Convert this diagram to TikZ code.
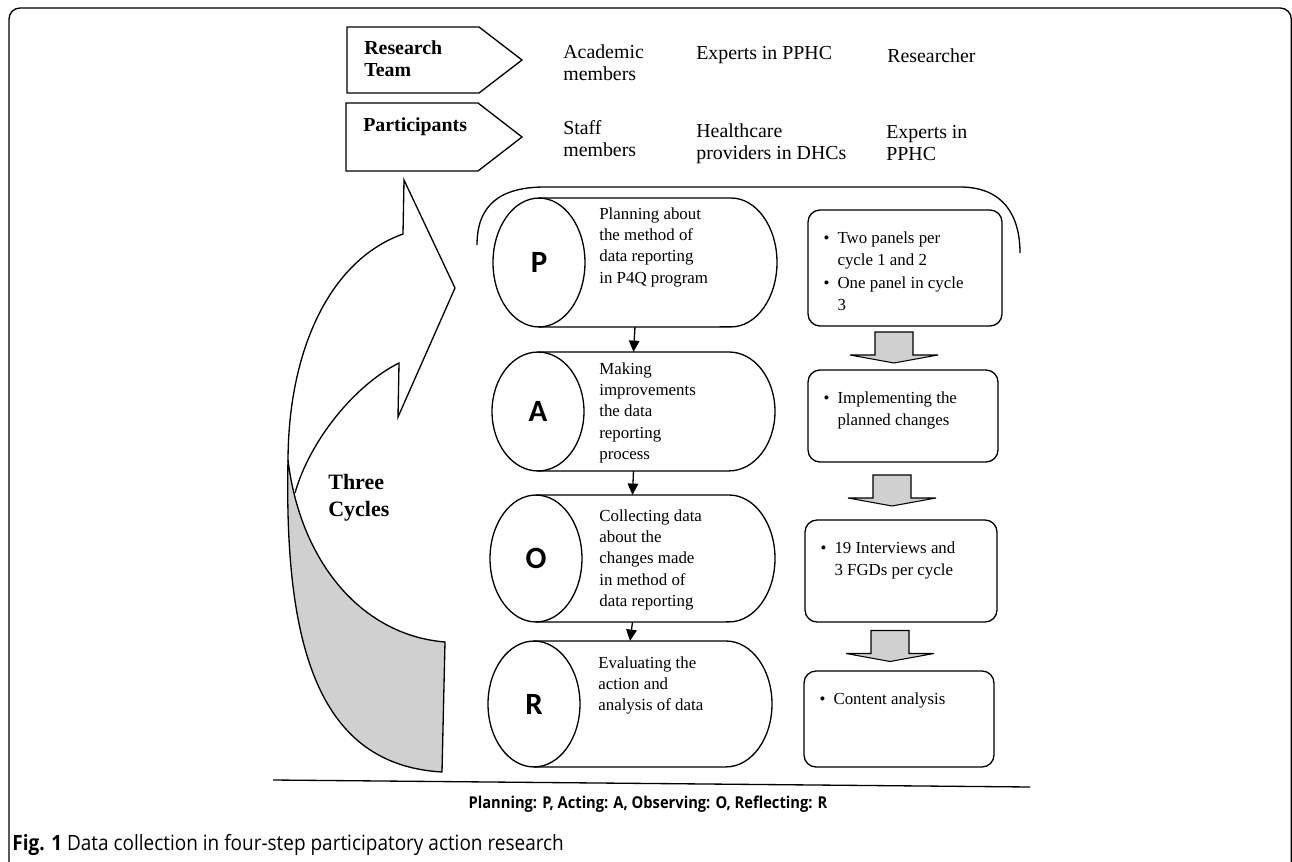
\documentclass[tikz,border=0pt]{standalone}
\usepackage{fontspec}
\setmainfont{Liberation Serif}
\newfontfamily\stepfont{Carlito}
\newfontfamily\capfont[FakeStretch=0.9]{Open Sans}
\usetikzlibrary{arrows.meta,calc,positioning}
\definecolor{shadegrey}{HTML}{D0D0D0}

\begin{document}
\begin{tikzpicture}
[x=0.02cm,y=-0.02cm,%
  outline/.style={draw=black,line width=0.75pt},%
  cylframe/.style={inner sep=0pt,outer sep=0pt},%
  notebox/.style={draw,line width=0.75pt,rounded corners=0.24cm,inner sep=0pt},%
  headText/.style={anchor=north west,inner sep=0pt,align=left,font=\fontsize{11.3}{12.7}\selectfont},%
  bodyText/.style={anchor=north west,inner sep=0pt,align=left,font=\fontsize{9.6}{12.2}\selectfont},%
  stepLetter/.style={inner sep=0pt,font=\stepfont\bfseries\fontsize{17.6}{18}\selectfont},%
  stepArrow/.style={-{Triangle[width=6pt,length=6.5pt]},line width=0.75pt},%
  blockArrow/.style={draw,fill=shadegrey,line width=0.6pt,line join=miter}]
\useasboundingbox (0,0) rectangle (1292,862);
\clip (0,0) rectangle (1292,862);
%% frame
\draw[line width=0.75pt,rounded corners=0.22cm] (9,8) rectangle (1291.3,880);

%% team and participants
\draw[outline] (347,27) -- (479,27) -- (522,60) -- (479,93) -- (347,93) -- cycle;
\draw[outline] (346,103) -- (478,103) -- (522,137) -- (478,171) -- (346,171) -- cycle;
\node[headText,font=\bfseries\fontsize{11.3}{13}\selectfont] (team) at (364,40) {Research\\Team};
\node[headText,font=\bfseries\fontsize{11.3}{13}\selectfont] (parts) at (363,117) {Participants};
\node[headText] (team1) at (563,44) {Academic\\members};
\node[headText] (team2) at (696,46) {Experts in PPHC};
\node[headText] (team3) at (887,48) {Researcher};
\node[headText] (parts1) at (563,120) {Staff\\members};
\node[headText] (parts2) at (696,123) {Healthcare\\providers in DHCs};
\node[headText] (parts3) at (886,125) {Experts in\\PPHC};

%% the three cycles arrow
\draw[outline] (288,462) .. controls (288,350) and (330,260) .. (403,234)
  -- (404,180) -- (455,288) -- (398,417) -- (399,363)
  .. controls (355,385) and (310,440) .. (295,493);
\draw[outline,fill=shadegrey] (288,460) .. controls (300,560) and (360,635) .. (445,642)
  -- (442,772) .. controls (320,765) and (284,650) .. (288,460) -- cycle;
\node[headText,font=\bfseries\fontsize{12.5}{15.3}\selectfont] (cycles) at (328,474) {Three\\Cycles};

%% bracket
\draw[outline] (477,245) .. controls (477,205) and (500,187) .. (545,187)
  -- (960,187) .. controls (1003,187) and (1020,215) .. (1020,253);

%% cylinders
\foreach \n/\l/\r/\t/\b in {P/493/777/198/327, A/492/775/352/471, O/490/775/495/622, R/488/772/641/767}
{
  \node[cylframe,minimum width={(\r-\l)*0.02cm},minimum height={(\b-\t)*0.02cm}] (cyl\n) at ({(\l+\r)/2},{(\t+\b)/2}) {};
  \draw[outline] ([xshift=0.92cm]cyl\n.north west) -- ([xshift=-0.92cm]cyl\n.north east)
    arc[start angle=90,end angle=-90,x radius=0.92cm,y radius={(\b-\t)*0.01cm}]
    -- ([xshift=0.92cm]cyl\n.south west);
  \draw[outline] ([xshift=0.92cm]cyl\n.west) ellipse [x radius=0.92cm,y radius={(\b-\t)*0.01cm}];
  \node[stepLetter] (let\n) at ([xshift=0.92cm]cyl\n.west) {\n};
}
\node[bodyText] (descP) at (599,207) {Planning about\\the method of\\data reporting\\in P4Q program};
\node[bodyText] (descA) at (599,362) {Making\\improvements\\the data\\reporting\\process};
\node[bodyText] (descO) at (599,509) {Collecting data\\about the\\changes made\\in method of\\data reporting};
\node[bodyText] (descR) at (598,656) {Evaluating the\\action and\\analysis of data};
\foreach \a/\b in {P/A, A/O, O/R}
  \draw[stepArrow] (cyl\a.south) -- (cyl\b.north);

%% notes on the right
\node[notebox,minimum width=3.88cm,minimum height=2.32cm] (note1) at (905,268) {};
\node[notebox,minimum width=3.8cm,minimum height=1.84cm] (note2) at (903,416) {};
\node[notebox,minimum width=3.84cm,minimum height=2.04cm] (note3) at (901,571) {};
\node[notebox,minimum width=3.8cm,minimum height=1.92cm] (note4) at (899,719) {};
\foreach \a/\b in {note1/note2, note2/note3, note3/note4}
  \draw[blockArrow] ($(\a.south)!0.5!(\b.north)+(-29,-16)$) -- ++(0,23) -- ++(-25,0)
    -- ++(44,8) -- ++(44,-8) -- ++(-25,0) -- ++(0,-23) -- cycle;
\foreach \nb/\txt in {note1/{\textbullet & Two panels per\\ & cycle 1 and 2\\ \textbullet & One panel in cycle\\ & 3},
  note2/{\textbullet & Implementing the\\ & planned changes},
  note3/{\textbullet & 19 Interviews and\\ & 3 FGDs per cycle},
  note4/{\textbullet & Content analysis}}
  \node[bodyText,font=\fontsize{9.6}{12.8}\selectfont] at ([xshift=0.32cm,yshift=-0.36cm]\nb.north west)
    {\begin{tabular}{@{}l@{\hspace{4.5pt}}l@{}}\txt\end{tabular}};

%% legend and caption
\draw[line width=0.75pt] (273,780) -- (1030,787);
\node[inner sep=0pt,font=\capfont\bfseries\fontsize{9.3}{10}\selectfont] (legend) at (648,804)
  {Planning: P, Acting: A, Observing: O, Reflecting: R};
\node[anchor=west,inner sep=0pt,font=\capfont\fontsize{12}{14}\selectfont] (figcap) at (12,845)
  {\textbf{Fig. 1} Data collection in four-step participatory action research};
\end{tikzpicture}
\end{document}
